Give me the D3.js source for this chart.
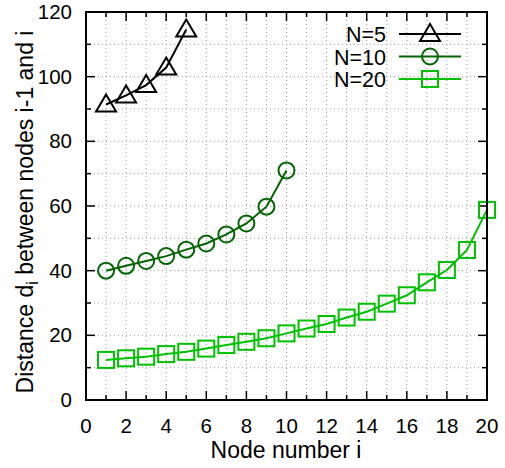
<!DOCTYPE html>
<html>
<head>
<meta charset="utf-8">
<script src="https://cdn.jsdelivr.net/npm/d3@7"></script>
<style>
  body { margin: 0; background: #fff; }
  text { font-family: "Liberation Sans", Arial, sans-serif; fill: #000; }
  .grid line { stroke: #999; stroke-width: 1; stroke-dasharray: 1,3; }
</style>
</head>
<body>
<div id="main"></div>
<script>
var ctx = {
    w: 505,
    h: 468,
    left: 86, right: 487, top: 12, bottom: 400
};

// values
var nodes5 = [1, 2, 3, 4, 5];
var dist5 = [91.4, 94.2, 97.4, 102.8, 114.6];
var nodes10 = [1, 2, 3, 4, 5, 6, 7, 8, 9, 10];
var dist10 = [40.0, 41.5, 43.0, 44.5, 46.5, 48.4, 51.2, 54.6, 59.8, 71.0];
var nodes20 = [1, 2, 3, 4, 5, 6, 7, 8, 9, 10, 11, 12, 13, 14, 15, 16, 17, 18, 19, 20];
var dist20 = [12.4, 12.9, 13.4, 14.2, 14.9, 15.9, 17.0, 18.0, 19.1, 20.6,
              22.1, 23.5, 25.5, 27.3, 29.8, 32.4, 36.4, 40.2, 46.4, 58.8];
var seriesNames = ["N=5", "N=10", "N=20"];
var xTicks = [0, 2, 4, 6, 8, 10, 12, 14, 16, 18, 20];
var yTicks = [0, 20, 40, 60, 80, 100, 120];

var series = [
    {name: seriesNames[0], x: nodes5, y: dist5, color: "#000000", sym: "tri"},
    {name: seriesNames[1], x: nodes10, y: dist10, color: "#006400", sym: "circ"},
    {name: seriesNames[2], x: nodes20, y: dist20, color: "#00c000", sym: "sq"}
];

var drawMarker = function(g, sym, color){
    if (sym == "tri") {
        g.append("path").attr("d", "M0,-10L10,7L-10,7Z");
    } else if (sym == "circ") {
        g.append("circle").attr("r", 8);
    } else {
        g.append("rect").attr("x", -8).attr("y", -8).attr("width", 16).attr("height", 16);
    }
    g.selectAll("*").attr("fill", "none").attr("stroke", color).attr("stroke-width", 2);
};

var createViz = function(){
    var svg = d3.select("#main").append("svg")
        .attr("width", ctx.w).attr("height", ctx.h);

    ctx.xScale = d3.scaleLinear().domain([0, 20]).range([ctx.left, ctx.right]);
    ctx.yScale = d3.scaleLinear().domain([0, 120]).range([ctx.bottom, ctx.top]);

    // dotted grid at every integer x and every 10 in y
    var grid = svg.append("g").attr("class", "grid");
    grid.selectAll("line.v").data(d3.range(1, 20)).enter().append("line")
        .attr("x1", d => ctx.xScale(d)).attr("x2", d => ctx.xScale(d))
        .attr("y1", ctx.top).attr("y2", ctx.bottom);
    grid.selectAll("line.h").data(d3.range(10, 120, 10)).enter().append("line")
        .attr("y1", d => ctx.yScale(d)).attr("y2", d => ctx.yScale(d))
        .attr("x1", ctx.left).attr("x2", ctx.right);

    // ticks on all four sides, minor ticks shorter
    var ticksG = svg.append("g").attr("stroke", "#000").attr("stroke-width", 1.5);
    d3.range(1, 20).forEach(function(d){
        var len = (d % 2 == 0) ? 9 : 5;
        var x = ctx.xScale(d);
        ticksG.append("line").attr("x1", x).attr("x2", x).attr("y1", ctx.bottom).attr("y2", ctx.bottom - len);
        ticksG.append("line").attr("x1", x).attr("x2", x).attr("y1", ctx.top).attr("y2", ctx.top + len);
    });
    d3.range(10, 120, 10).forEach(function(d){
        var len = (d % 20 == 0) ? 9 : 5;
        var y = ctx.yScale(d);
        ticksG.append("line").attr("y1", y).attr("y2", y).attr("x1", ctx.left).attr("x2", ctx.left + len);
        ticksG.append("line").attr("y1", y).attr("y2", y).attr("x1", ctx.right).attr("x2", ctx.right - len);
    });

    // tick labels
    svg.append("g").selectAll("text").data(xTicks).enter().append("text")
        .attr("x", d => ctx.xScale(d)).attr("y", 433)
        .attr("text-anchor", "middle").style("font-size", "20.5px")
        .text(d => d);
    svg.append("g").selectAll("text").data(yTicks).enter().append("text")
        .attr("x", 72).attr("y", d => ctx.yScale(d) + 7)
        .attr("text-anchor", "end").style("font-size", "20.5px")
        .text(d => d);

    // axis labels
    svg.append("text").attr("x", 286).attr("y", 458)
        .attr("text-anchor", "middle").style("font-size", "23px")
        .text("Node number i");
    var yl = svg.append("text")
        .attr("transform", "translate(33," + 212 + ") rotate(-90)")
        .attr("text-anchor", "middle").style("font-size", "23px");
    yl.append("tspan").text("Distance d");
    yl.append("tspan").attr("dy", 5).style("font-size", "16px").text("i");
    yl.append("tspan").attr("dy", -5).text(" between nodes i-1 and i");

    // series
    var line = d3.line().x(d => ctx.xScale(d[0])).y(d => ctx.yScale(d[1]));
    series.forEach(function(s){
        var pts = s.x.map((v, i) => [v, s.y[i]]);
        svg.append("path").datum(pts).attr("d", line)
            .attr("fill", "none").attr("stroke", s.color).attr("stroke-width", 2);
        pts.forEach(function(p){
            var g = svg.append("g")
                .attr("transform", "translate(" + ctx.xScale(p[0]) + "," + ctx.yScale(p[1]) + ")");
            drawMarker(g, s.sym, s.color);
        });
    });

    // legend
    series.forEach(function(s, i){
        var y = 34 + i * 22.5;
        svg.append("text").attr("x", 386).attr("y", y + 8)
            .attr("text-anchor", "end").style("font-size", "21.5px").text(s.name);
        svg.append("line").attr("x1", 399).attr("x2", 461).attr("y1", y).attr("y2", y)
            .attr("stroke", s.color).attr("stroke-width", 2);
        var g = svg.append("g").attr("transform", "translate(430," + y + ")");
        drawMarker(g, s.sym, s.color);
    });

    // frame
    svg.append("rect").attr("x", ctx.left).attr("y", ctx.top)
        .attr("width", ctx.right - ctx.left).attr("height", ctx.bottom - ctx.top)
        .attr("fill", "none").attr("stroke", "#000").attr("stroke-width", 2);
};

createViz();
</script>
</body>
</html>
